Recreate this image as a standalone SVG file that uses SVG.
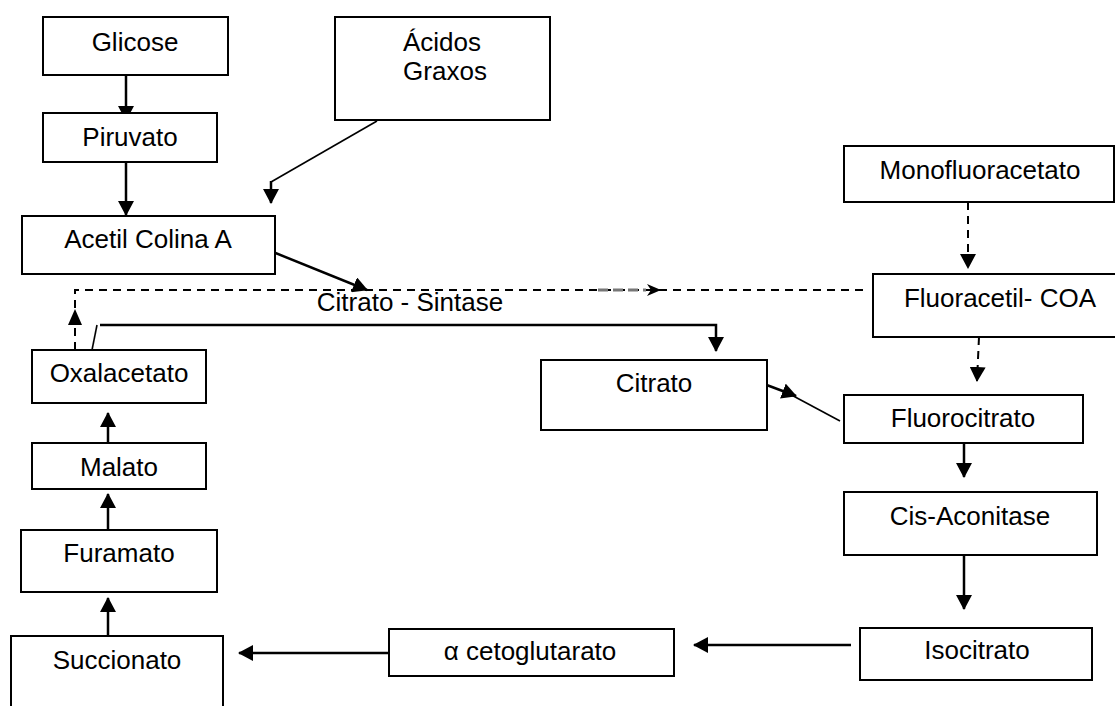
<svg xmlns="http://www.w3.org/2000/svg" width="1115" height="706" viewBox="0 0 1115 706">
<defs>
<style>
.box{fill:#fff;stroke:#000;stroke-width:2}
.t{font-family:"Liberation Sans",Arial,sans-serif;font-size:26px;fill:#000;text-anchor:middle}
.a{fill:none;stroke:#000;stroke-width:2.5}
.thin{fill:none;stroke:#000;stroke-width:1.6}
.d{fill:none;stroke:#000;stroke-width:2;stroke-dasharray:8 6}
</style>
<marker id="ah" markerUnits="userSpaceOnUse" viewBox="0 0 15 16" refX="14" refY="8" markerWidth="15" markerHeight="16" orient="auto">
<path d="M0,0 L15,8 L0,16 z" fill="#000"/>
</marker>
<marker id="st" markerUnits="userSpaceOnUse" viewBox="0 0 14 12" refX="13" refY="6" markerWidth="14" markerHeight="12" orient="auto">
<path d="M0,0 L14,6 L0,12 L4,6 z" fill="#000"/>
</marker>
</defs>

<g id="connectors">
<line class="a" x1="126" y1="75" x2="126" y2="120" marker-end="url(#ah)"/>
<line class="a" x1="126" y1="162" x2="126" y2="215" marker-end="url(#ah)"/>
<line class="thin" x1="377" y1="121" x2="271" y2="182"/>
<line class="a" x1="271" y1="181" x2="271" y2="203" marker-end="url(#ah)"/>
<line class="a" x1="273" y1="252" x2="367" y2="290" marker-end="url(#ah)"/>
<path class="d" d="M75,350 V290 H867"/>
<line x1="598" y1="290" x2="646" y2="290" stroke="#777" stroke-width="3" stroke-dasharray="10 5"/>
<path d="M646,290 L660,290" fill="none" stroke="#000" stroke-width="1" marker-end="url(#st)"/>
<polygon points="75,309 68,325 82,325" fill="#000"/>
<line class="d" x1="968" y1="202" x2="968" y2="268" marker-end="url(#ah)"/>
<line class="d" x1="979" y1="337" x2="977" y2="381" marker-end="url(#ah)"/>
<path class="thin" d="M92,350 L97,325"/>
<path class="a" d="M100,325 H716 V351" marker-end="url(#ah)"/>
<line class="a" x1="764" y1="384" x2="796" y2="396" marker-end="url(#ah)"/>
<line class="thin" x1="784" y1="391" x2="840" y2="421"/>
<line class="a" x1="964" y1="443" x2="964" y2="477" marker-end="url(#ah)"/>
<line class="a" x1="964" y1="555" x2="964" y2="609" marker-end="url(#ah)"/>
<line class="a" x1="851" y1="645" x2="694" y2="645" marker-end="url(#ah)"/>
<line class="a" x1="389" y1="653" x2="239" y2="653" marker-end="url(#ah)"/>
<line class="a" x1="108" y1="443" x2="108" y2="413" marker-end="url(#ah)"/>
<line class="a" x1="108" y1="530" x2="108" y2="494" marker-end="url(#ah)"/>
<line class="a" x1="108" y1="636" x2="108" y2="598" marker-end="url(#ah)"/>
</g>

<g id="glicose"><rect class="box" x="43" y="17" width="185" height="58"/><text class="t" x="135" y="51">Glicose</text></g>
<g id="piruvato"><rect class="box" x="43" y="113" width="174" height="49"/><text class="t" x="130" y="146">Piruvato</text></g>
<g id="acetil"><rect class="box" x="22" y="216" width="253" height="58"/><text class="t" x="148" y="248">Acetil Colina A</text></g>
<g id="acidos"><rect class="box" x="335" y="17" width="215" height="103"/><text class="t" x="442" y="51">Ácidos</text><text class="t" x="445" y="80">Graxos</text></g>
<g id="monofluoracetato"><rect class="box" x="844" y="146" width="270" height="56"/><text class="t" x="980" y="179">Monofluoracetato</text></g>
<g id="fluoracetil"><rect class="box" x="873" y="274" width="250" height="63"/><text class="t" x="1000" y="307">Fluoracetil- COA</text></g>
<g id="sintase"><text class="t" x="410" y="311">Citrato - Sintase</text></g>
<g id="citrato"><rect class="box" x="541" y="360" width="226" height="70"/><text class="t" x="654" y="392">Citrato</text></g>
<g id="fluorocitrato"><rect class="box" x="844" y="395" width="239" height="48"/><text class="t" x="963" y="427">Fluorocitrato</text></g>
<g id="cisaconitase"><rect class="box" x="844" y="492" width="253" height="63"/><text class="t" x="970" y="525">Cis-Aconitase</text></g>
<g id="isocitrato"><rect class="box" x="860" y="628" width="232" height="52"/><text class="t" x="977" y="659">Isocitrato</text></g>
<g id="cetoglutarato"><rect class="box" x="389" y="629" width="285" height="47"/><text class="t" x="530" y="660">α cetoglutarato</text></g>
<g id="oxalacetato"><rect class="box" x="32" y="350" width="174" height="53"/><text class="t" x="119" y="382">Oxalacetato</text></g>
<g id="malato"><rect class="box" x="32" y="443" width="174" height="46"/><text class="t" x="119" y="476">Malato</text></g>
<g id="furamato"><rect class="box" x="21" y="530" width="196" height="62"/><text class="t" x="119" y="562">Furamato</text></g>
<g id="succionato"><rect class="box" x="11" y="636" width="212" height="80"/><text class="t" x="117" y="669">Succionato</text></g>
</svg>
